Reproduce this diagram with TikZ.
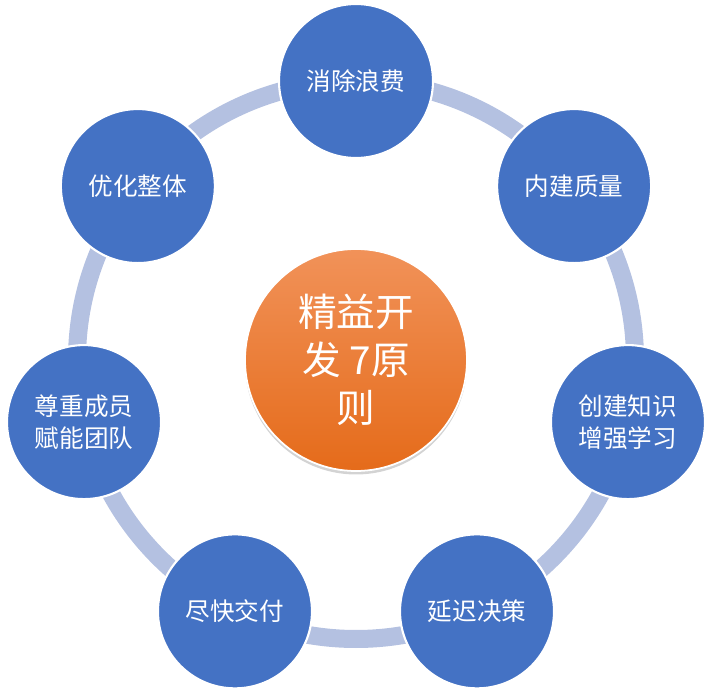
\documentclass[tikz,border=0pt]{standalone}
\usepackage{fontspec}
\setmainfont{Noto Sans CJK SC}
\usepackage{tikz}
\usetikzlibrary{shadows}
\usepackage{xcolor}
\definecolor{prinblue}{HTML}{4472C4}
\definecolor{ringblue}{HTML}{B4C1E1}
\definecolor{hubtop}{HTML}{F19259}
\definecolor{hubbottom}{HTML}{E56B1A}

\begin{document}
\begin{tikzpicture}[
    every node/.style={text=white},
    hub/.style={
        circle,
        draw=white,
        line width=1pt,
        minimum size=4.44cm,
        align=center,
        top color=hubtop,
        bottom color=hubbottom,
        font=\fontsize{22pt}{27.5pt}\selectfont,
        drop shadow={opacity=.35, shadow xshift=0cm, shadow yshift=-.07cm}
    },
    principle/.style={
        circle,
        draw=white,
        line width=1.2pt,
        fill=prinblue,
        minimum size=3.08cm,
        align=center,
        font=\fontsize{14pt}{18pt}\selectfont
    },
    ring/.style={
        draw=ringblue,
        line width=.36cm
    }
]
\useasboundingbox (-7.12,-6.74) rectangle (7.16,7.2);

\node[hub] (hub) at (0,0) {精益开\\发 7原\\则};
\draw[ring] (hub.center) circle (5.58);

\node[principle] (waste) at (90:5.58) {消除浪费};
\node[principle] (quality) at (38.57:5.58) {内建质量};
\node[principle] (knowledge) at (-12.86:5.58) {创建知识\\增强学习};
\node[principle] (defer) at (-64.29:5.58) {延迟决策};
\node[principle] (deliver) at (-115.71:5.58) {尽快交付};
\node[principle] (respect) at (-167.14:5.58) {尊重成员\\赋能团队};
\node[principle] (whole) at (141.43:5.58) {优化整体};

\end{tikzpicture}
\end{document}
